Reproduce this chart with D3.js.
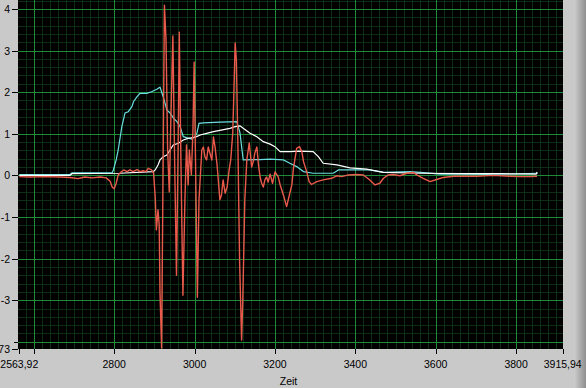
<!DOCTYPE html>
<html>
<head>
<meta charset="utf-8">
<script src="https://cdn.jsdelivr.net/npm/d3@7"></script>
<style>
  html, body { margin: 0; padding: 0; background: #c9c9c9; overflow: hidden; }
  svg { display: block; }
  .lbl { font-family: "Liberation Sans", Arial, sans-serif; font-size: 10.5px; fill: #000; }
</style>
</head>
<body>
<div id="chart"></div>
<script>
const xMin = 2563.92, xMax = 3915.94;
const yMin = -4.173, yMax = 4.214;

const xTicks = [2563.92, 2800, 3000, 3200, 3400, 3600, 3800, 3915.94];
const xTickLabels = ["2563,92", "2800", "3000", "3200", "3400", "3600", "3800", "3915,94"];
const xTicksBare = [2600];
const yTicks = [-4.173, -3, -2, -1, 0, 1, 2, 3, 4];
const yTickLabels = ["-4,173", "-3", "-2", "-1", "0", "1", "2", "3", "4"];
const yTicksBare = [-4];

const redData = [
  [2564,-0.03],[2591,-0.04],[2628,-0.03],[2665,-0.04],[2690,-0.05],[2710,-0.08],[2727,-0.04],
  [2745,-0.06],[2765,-0.04],[2780,-0.06],[2790,-0.14],[2795,-0.28],[2800,-0.32],[2805,-0.19],
  [2810,0.01],[2817,0.08],[2824,0.13],[2832,0.09],[2839,0.13],[2847,0.09],[2857,0.14],
  [2864,0.09],[2872,0.11],[2879,0.09],[2885,0.17],[2893,0.13],[2898,0.06],[2902,-0.51],
  [2905,-1.31],[2909,-0.83],[2912,-1.19],[2914,-2.83],[2918,-4.15],[2921,-0.59],[2925,4.09],
  [2929,3.25],[2933,0.61],[2937,-0.40],[2941,1.33],[2946,3.35],[2950,0.61],[2955,-2.40],
  [2959,0.61],[2962,3.44],[2966,0.37],[2971,-2.88],[2976,-0.59],[2980,0.73],[2984,-0.23],
  [2987,0.61],[2992,0.01],[2996,1.09],[2999,2.72],[3003,-0.11],[3007,-2.93],[3011,-0.59],
  [3018,0.61],[3022,0.68],[3026,0.44],[3030,0.37],[3034,0.68],[3038,0.54],[3043,0.37],
  [3047,0.92],[3051,0.68],[3056,0.25],[3059,-0.11],[3063,-0.59],[3067,-0.47],[3071,-0.11],
  [3076,-0.43],[3081,-0.28],[3086,0.13],[3090,0.37],[3095,1.02],[3098,2.05],[3101,3.18],
  [3104,2.77],[3108,0.61],[3112,-2.04],[3117,-3.96],[3120,-3.00],[3125,-0.59],[3130,0.37],
  [3136,0.78],[3142,0.20],[3147,0.37],[3150,0.54],[3155,0.68],[3159,0.25],[3163,-0.04],
  [3167,-0.19],[3171,-0.28],[3175,-0.11],[3179,-0.04],[3183,-0.16],[3188,0.03],[3194,-0.19],
  [3200,0.08],[3208,-0.03],[3213,-0.23],[3221,-0.47],[3229,-0.75],[3233,-0.59],[3242,-0.23],
  [3246,0.17],[3254,0.65],[3261,0.69],[3267,0.57],[3271,0.33],[3279,0.09],[3285,-0.15],
  [3291,-0.22],[3304,-0.15],[3320,-0.11],[3341,-0.07],[3354,-0.01],[3366,-0.03],[3383,0.01],
  [3403,0.02],[3420,0.01],[3436,-0.11],[3449,-0.23],[3461,-0.19],[3470,-0.07],[3482,0.01],
  [3494,0.02],[3511,-0.01],[3528,0.05],[3544,0.07],[3553,0.01],[3569,-0.07],[3586,-0.15],
  [3602,-0.10],[3619,-0.05],[3644,-0.02],[3660,-0.02],[3702,-0.02],[3743,0.00],[3785,-0.02],
  [3810,-0.03],[3835,-0.03],[3852,-0.02]
];

const cyanData = [
  [2564,0.02],[2690,0.02],[2695,0.06],[2795,0.06],[2798,0.13],[2805,0.37],[2810,0.61],
  [2819,1.17],[2827,1.50],[2835,1.53],[2844,1.65],[2848,1.77],[2856,1.88],[2864,1.97],
  [2881,1.97],[2893,2.01],[2906,2.07],[2914,2.12],[2922,1.89],[2931,1.57],[2939,1.50],
  [2947,1.38],[2956,1.29],[2964,1.17],[2972,0.93],[2982,0.90],[2993,0.87],[3001,0.93],
  [3006,1.02],[3011,1.25],[3022,1.26],[3063,1.28],[3105,1.29],[3113,1.02],[3121,0.37],
  [3163,0.38],[3188,0.39],[3221,0.37],[3237,0.29],[3254,0.21],[3271,0.09],[3295,0.05],
  [3345,0.05],[3358,0.13],[3395,0.13],[3436,0.13],[3470,0.07],[3536,0.09],[3578,0.06],
  [3611,0.03],[3660,0.03],[3727,0.02],[3854,0.05]
];

const whiteData = [
  [2564,0.00],[2690,0.00],[2695,0.04],[2814,0.05],[2897,0.09],[2902,0.13],[2909,0.25],
  [2914,0.37],[2922,0.45],[2931,0.49],[2939,0.61],[2947,0.73],[2960,0.77],[2972,0.85],
  [2984,0.89],[2997,0.91],[3005,0.93],[3014,0.97],[3030,1.01],[3047,1.05],[3063,1.08],
  [3088,1.13],[3101,1.17],[3113,1.19],[3121,1.13],[3138,1.01],[3155,0.93],[3171,0.81],
  [3188,0.75],[3200,0.69],[3213,0.57],[3237,0.57],[3262,0.58],[3295,0.57],[3308,0.45],
  [3320,0.29],[3354,0.25],[3387,0.18],[3428,0.15],[3470,0.07],[3561,0.05],[3660,0.04],
  [3760,0.04],[3850,0.03],[3852,0.08]
];

const W = 586, H = 388;
const plot = {left: 18, right: 563, top: 0, bottom: 349};

let svg = d3.select("#chart").append("svg")
  .attr("width", W)
  .attr("height", H);

// right edge shading
let grad = svg.append("defs").append("linearGradient")
  .attr("id", "edge")
  .attr("x1", "0").attr("x2", "1").attr("y1", "0").attr("y2", "0");
grad.append("stop").attr("offset", "0").attr("stop-color", "#cdcdcd");
grad.append("stop").attr("offset", "1").attr("stop-color", "#8e8e8e");

svg.append("rect")
  .attr("x", 0).attr("y", 0).attr("width", W).attr("height", H)
  .attr("fill", "#c9c9c9");
svg.append("rect")
  .attr("x", 574).attr("y", 0).attr("width", W - 574).attr("height", H)
  .attr("fill", "url(#edge)");

// Scales
let x = d3.scaleLinear()
  .domain([xMin, xMax])
  .range([19.3, 562.7]);
let y = d3.scaleLinear()
  .domain([yMin, yMax])
  .range([plot.bottom, plot.top]);

// Plot background
svg.append("rect")
  .attr("x", plot.left).attr("y", plot.top)
  .attr("width", plot.right - plot.left)
  .attr("height", plot.bottom - plot.top)
  .attr("fill", "#000");

let g = svg.append("g");

// Minor grid
let xMinor = d3.range(2580, xMax, 20).filter(v => v % 200 != 0);
let yMinor = d3.range(-4.2, 4.21, 0.2)
  .map(v => Math.round(v * 10) / 10)
  .filter(v => Math.abs(v - Math.round(v)) > 0.01 && v > yMin && v < yMax);

g.selectAll(".xminor").data(xMinor).enter().append("line")
  .attr("x1", d => Math.round(x(d)) + 0.5).attr("x2", d => Math.round(x(d)) + 0.5)
  .attr("y1", plot.top).attr("y2", plot.bottom)
  .attr("stroke", "#0c2e14").attr("stroke-width", 1);
g.selectAll(".yminor").data(yMinor).enter().append("line")
  .attr("y1", d => Math.round(y(d)) + 0.5).attr("y2", d => Math.round(y(d)) + 0.5)
  .attr("x1", plot.left).attr("x2", plot.right)
  .attr("stroke", "#0c2e14").attr("stroke-width", 1);

// Major grid
let xMajor = d3.range(2600, xMax, 200);
let yMajor = d3.range(-4, 5, 1);
g.selectAll(".xmajor").data(xMajor).enter().append("line")
  .attr("x1", d => Math.round(x(d)) + 0.5).attr("x2", d => Math.round(x(d)) + 0.5)
  .attr("y1", plot.top).attr("y2", plot.bottom)
  .attr("stroke", "#1e8a3a").attr("stroke-width", 1);
g.selectAll(".ymajor").data(yMajor).enter().append("line")
  .attr("y1", d => Math.round(y(d)) + 0.5).attr("y2", d => Math.round(y(d)) + 0.5)
  .attr("x1", plot.left).attr("x2", plot.right)
  .attr("stroke", "#1e8a3a").attr("stroke-width", 1);

// Traces
let line = d3.line()
  .x(d => x(d[0]))
  .y(d => y(d[1]));

let traces = svg.append("g");
traces.append("path").datum(cyanData)
  .attr("d", line).attr("fill", "none")
  .attr("stroke", "#6adede").attr("stroke-width", 1.2);
traces.append("path").datum(whiteData)
  .attr("d", line).attr("fill", "none")
  .attr("stroke", "#ffffff").attr("stroke-width", 1.2);
traces.append("path").datum(redData)
  .attr("d", line).attr("fill", "none")
  .attr("stroke", "#ea5a4c").attr("stroke-width", 1.4)
  .attr("stroke-linejoin", "round");

// X axis ticks and labels
let ax = svg.append("g");
ax.selectAll(".xt").data(xTicks.concat(xTicksBare)).enter().append("line")
  .attr("x1", d => Math.round(x(d)) + 0.5).attr("x2", d => Math.round(x(d)) + 0.5)
  .attr("y1", plot.bottom).attr("y2", plot.bottom + 5)
  .attr("stroke", "#000");
ax.selectAll(".xl").data(xTicks).enter().append("text")
  .attr("class", "lbl")
  .attr("x", d => x(d))
  .attr("y", 367.5)
  .attr("text-anchor", "middle")
  .text((d, i) => xTickLabels[i]);

svg.append("text")
  .attr("class", "lbl")
  .attr("x", (plot.left + plot.right) / 2 - 2)
  .attr("y", 385)
  .attr("text-anchor", "middle")
  .text("Zeit");

// Y axis ticks and labels
ax.selectAll(".yt").data(yTicks).enter().append("line")
  .attr("y1", d => Math.round(y(d)) + 0.5).attr("y2", d => Math.round(y(d)) + 0.5)
  .attr("x1", 12).attr("x2", plot.left)
  .attr("stroke", "#000");
ax.selectAll(".ytb").data(yTicksBare).enter().append("line")
  .attr("y1", d => Math.round(y(d)) + 0.5).attr("y2", d => Math.round(y(d)) + 0.5)
  .attr("x1", 14).attr("x2", plot.left)
  .attr("stroke", "#000");
ax.selectAll(".yl").data(yTicks).enter().append("text")
  .attr("class", "lbl")
  .attr("x", 10)
  .attr("y", d => y(d) + 4)
  .attr("text-anchor", "end")
  .text((d, i) => yTickLabels[i]);
</script>
</body>
</html>
